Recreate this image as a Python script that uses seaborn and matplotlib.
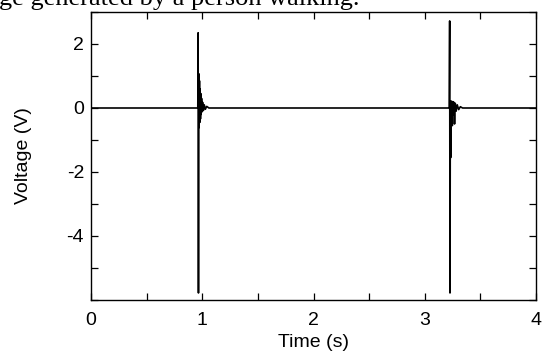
import matplotlib
matplotlib.use("Agg")
import matplotlib.pyplot as plt
import seaborn as sns
import pandas as pd
from matplotlib.ticker import MultipleLocator

# Data
time_s = [0.000, 0.960, 0.963, 0.966, 0.969, 0.972, 0.975, 0.978, 0.981, 0.984,
          0.987, 0.990, 0.994, 0.998, 1.003, 1.010, 1.018, 1.028, 1.040, 1.060,
          3.220, 3.224, 3.227, 3.230, 3.233, 3.236, 3.240, 3.244, 3.248, 3.252,
          3.257, 3.262, 3.268, 3.274, 3.282, 3.292, 3.305, 3.320, 3.340, 4.000]
voltage_v = [0.00, 0.00, 2.35, -5.78, 1.07, -0.61, 0.85, -0.45, 0.60, -0.34,
             0.45, -0.20, 0.30, -0.12, 0.18, -0.08, 0.10, -0.04, 0.05, 0.00,
             0.00, 2.72, -5.78, 0.20, -1.55, 0.22, -0.30, 0.20, -0.55, 0.20,
             -0.20, 0.18, -0.50, 0.15, -0.10, 0.10, -0.05, 0.04, 0.00, 0.00]
x_ticks = [0, 1, 2, 3, 4]
y_ticks = [2, 0, -2, -4]
caption = "ge generated by a person walking."

sns.set_theme(style="ticks")
plt.rcParams["font.family"] = ["Liberation Sans", "DejaVu Sans"]

df = pd.DataFrame({"Time (s)": time_s, "Voltage (V)": voltage_v})

fig = plt.figure(figsize=(5.44, 3.52), dpi=100)
ax = fig.add_axes([91 / 544, 1 - 300 / 352, (536 - 91) / 544, (300 - 12) / 352])

sns.lineplot(data=df, x="Time (s)", y="Voltage (V)", ax=ax, color="black",
             linewidth=1.2, estimator=None)

ax.set_xlim(0, 4)
ax.set_ylim(-6, 3)
ax.set_xticks(x_ticks)
ax.set_yticks(y_ticks)
ax.set_xticklabels([str(v) for v in x_ticks])
ax.set_yticklabels([str(v) for v in y_ticks])
ax.xaxis.set_minor_locator(MultipleLocator(0.5))
ax.yaxis.set_minor_locator(MultipleLocator(1))
ax.tick_params(which="both", direction="in", top=True, right=True,
               length=5, width=0.9, color="black", labelsize=14,
               labelcolor="black")
ax.tick_params(axis="x", which="both", pad=8.5)
ax.tick_params(axis="y", which="both", pad=5)
for s in ax.spines.values():
    s.set_color("black")
    s.set_linewidth(1.0)
ax.set_xlabel("Time (s)", fontsize=14, color="black", labelpad=4)
ax.set_ylabel("Voltage (V)", fontsize=14, color="black", labelpad=25)

fig.text(-0.002, 1 - 5 / 352, caption, family=["Liberation Serif", "DejaVu Serif"],
         fontsize=19, va="baseline", ha="left", color="black")

fig.savefig("out.png", dpi=100, facecolor="white")
